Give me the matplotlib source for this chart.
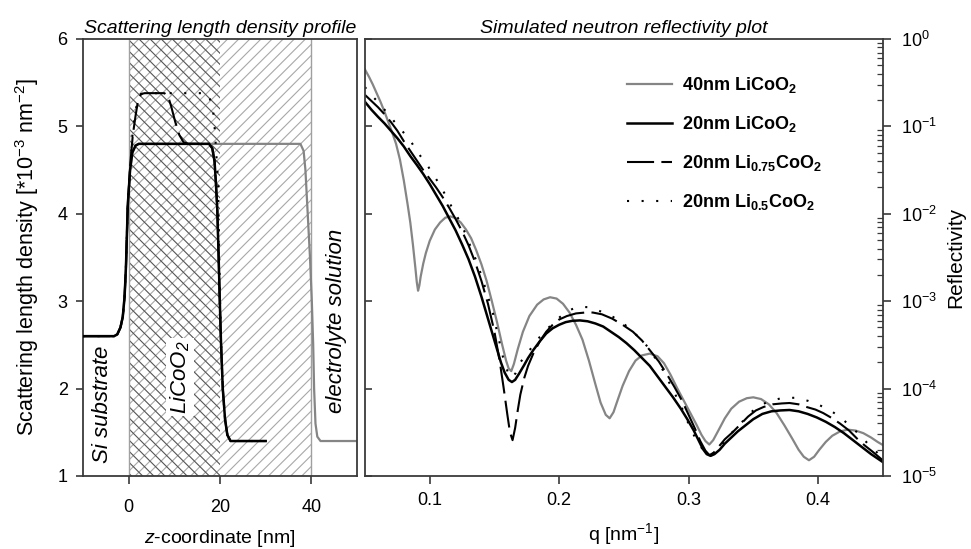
import matplotlib
matplotlib.use("Agg")
import matplotlib.pyplot as plt

plt.rcParams["font.family"] = ["Liberation Sans", "DejaVu Sans"]
plt.rcParams["mathtext.fontset"] = "custom"
plt.rcParams["mathtext.rm"] = "Liberation Sans"
plt.rcParams["mathtext.it"] = "Liberation Sans:italic"
plt.rcParams["mathtext.bf"] = "Liberation Sans:bold"
plt.rcParams["mathtext.default"] = "regular"
plt.rcParams["axes.unicode_minus"] = False
plt.rcParams["hatch.linewidth"] = 0.8

# ---------------- SLD profiles (z in nm, SLD in 1e-3 nm^-2) ----------------
z_40nm = [-10, -3.2, -2.5, -1.8, -1.3, -0.9, -0.6, -0.2, 0.3, 0.8, 1.5, 2.2,
          37.6, 38.3, 38.7, 39.2, 39.7, 40.1, 40.4, 40.6, 40.9, 41.3, 42.0, 50]
sld_40nm = [2.6, 2.6, 2.62, 2.7, 2.82, 3.05, 3.39, 4.1, 4.5, 4.7, 4.78, 4.8,
            4.8, 4.72, 4.5, 4.0, 3.5, 3.0, 2.5, 2.0, 1.6, 1.45, 1.4, 1.4]

z_20nm = [-10, -3.2, -2.5, -1.8, -1.3, -0.9, -0.6, -0.2, 0.3, 0.8, 1.5, 2.2,
          17.6, 18.3, 18.8, 19.1, 19.4, 19.7, 19.95, 20.2, 20.6, 21.1, 21.6, 22.3, 30]
sld_20nm = [2.6, 2.6, 2.62, 2.7, 2.82, 3.05, 3.39, 4.1, 4.5, 4.7, 4.78, 4.8,
            4.8, 4.75, 4.6, 4.35, 4.05, 3.5, 3.0, 2.55, 2.0, 1.65, 1.47, 1.4, 1.4]

z_li075 = [-10, -3.2, -2.5, -1.8, -1.3, -0.9, -0.6, -0.2, 0.4, 0.9, 1.5, 2.0, 2.7, 3.5,
           7.8, 8.6, 9.3, 10.2, 11.1, 12.0, 13.0,
           17.6, 18.3, 18.8, 19.1, 19.4, 19.7, 19.95, 20.2, 20.6, 21.1, 21.6, 22.3, 30]
sld_li075 = [2.6, 2.6, 2.62, 2.7, 2.82, 3.05, 3.39, 4.1, 4.6, 4.9, 5.12, 5.28, 5.37, 5.38,
             5.38, 5.35, 5.23, 5.05, 4.9, 4.82, 4.8,
             4.8, 4.75, 4.6, 4.35, 4.05, 3.5, 3.0, 2.55, 2.0, 1.65, 1.47, 1.4, 1.4]

z_li05 = [-10, -3.2, -2.5, -1.8, -1.3, -0.9, -0.6, -0.2, 0.4, 0.9, 1.5, 2.0, 2.7, 3.5,
          17.3, 17.7, 18.1, 18.5, 18.8, 19.0, 19.2, 19.4, 19.6, 19.8, 20.05,
          20.3, 20.6, 21.1, 21.6, 22.3, 30]
sld_li05 = [2.6, 2.6, 2.62, 2.7, 2.82, 3.05, 3.39, 4.1, 4.6, 4.95, 5.18, 5.3, 5.37, 5.38,
            5.38, 5.33, 5.25, 5.17, 5.0, 4.84, 4.67, 4.52, 4.3, 3.6, 2.9,
            2.45, 2.0, 1.65, 1.47, 1.4, 1.4]

# ---------------- Simulated reflectivity (q in nm^-1, log10 R) ----------------
q_40nm = [0.050, 0.053, 0.056, 0.059, 0.062, 0.065, 0.068, 0.071, 0.074, 0.077, 0.080,
          0.083, 0.085, 0.087, 0.089, 0.090, 0.091, 0.092, 0.093, 0.095, 0.097, 0.100,
          0.104, 0.108, 0.112, 0.116, 0.120, 0.124, 0.128, 0.132, 0.136, 0.140, 0.144,
          0.148, 0.152, 0.156, 0.159, 0.161, 0.163, 0.165, 0.168, 0.172, 0.177, 0.183,
          0.188, 0.193, 0.198, 0.203, 0.208, 0.213, 0.218, 0.223, 0.228, 0.232, 0.236,
          0.239, 0.242, 0.245, 0.249, 0.254, 0.259, 0.264, 0.270, 0.276, 0.281, 0.286,
          0.291, 0.296, 0.301, 0.306, 0.310, 0.313, 0.316, 0.319, 0.323, 0.328, 0.333,
          0.339, 0.345, 0.350, 0.356, 0.362, 0.368, 0.374, 0.380, 0.385, 0.389, 0.393,
          0.397, 0.401, 0.406, 0.411, 0.417, 0.423, 0.429, 0.435, 0.441, 0.446, 0.450]
logR_40nm = [-0.35, -0.43, -0.52, -0.62, -0.72, -0.83, -0.95, -1.07, -1.20, -1.38, -1.62,
             -1.90, -2.10, -2.35, -2.63, -2.78, -2.88, -2.82, -2.72, -2.57, -2.45, -2.31,
             -2.18, -2.10, -2.045, -2.03, -2.05, -2.10, -2.18, -2.28, -2.42, -2.58, -2.77,
             -3.00, -3.24, -3.50, -3.68, -3.77, -3.80, -3.72, -3.55, -3.35, -3.17, -3.04,
             -2.98, -2.955, -2.97, -3.03, -3.13, -3.27, -3.44, -3.68, -3.95, -4.16, -4.30,
             -4.34, -4.27, -4.14, -3.97, -3.80, -3.68, -3.62, -3.60, -3.63, -3.71, -3.84,
             -3.99, -4.13, -4.27, -4.41, -4.53, -4.60, -4.64, -4.59, -4.48, -4.34, -4.23,
             -4.15, -4.11, -4.10, -4.12, -4.18, -4.28, -4.42, -4.57, -4.70, -4.78, -4.82,
             -4.78, -4.70, -4.61, -4.54, -4.49, -4.47, -4.48, -4.51, -4.56, -4.61, -4.645]

q_20nm = [0.050, 0.055, 0.060, 0.065, 0.070, 0.075, 0.080, 0.085, 0.090, 0.095, 0.100,
          0.105, 0.110, 0.115, 0.120, 0.125, 0.130, 0.135, 0.140, 0.145, 0.150, 0.155,
          0.158, 0.161, 0.1635, 0.166, 0.169, 0.173, 0.176, 0.180, 0.185, 0.190, 0.195,
          0.200, 0.205, 0.210, 0.216, 0.222, 0.228, 0.234, 0.240, 0.246, 0.252, 0.258,
          0.264, 0.270, 0.276, 0.282, 0.288, 0.294, 0.299, 0.304, 0.308, 0.311, 0.314,
          0.317, 0.320, 0.324, 0.328, 0.333, 0.338, 0.344, 0.350, 0.357, 0.364, 0.371,
          0.378, 0.385, 0.392, 0.399, 0.406, 0.413, 0.420, 0.427, 0.434, 0.441, 0.450]
logR_20nm = [-0.72, -0.81, -0.89, -0.965, -1.05, -1.135, -1.23, -1.34, -1.44, -1.545, -1.66,
             -1.785, -1.91, -2.05, -2.19, -2.35, -2.52, -2.72, -2.95, -3.20, -3.45, -3.70,
             -3.82, -3.90, -3.925, -3.90, -3.83, -3.73, -3.65, -3.56, -3.46, -3.37, -3.31,
             -3.27, -3.24, -3.225, -3.22, -3.23, -3.255, -3.29, -3.35, -3.41, -3.48, -3.56,
             -3.65, -3.74, -3.86, -3.98, -4.10, -4.23, -4.35, -4.48, -4.60, -4.69, -4.75,
             -4.77, -4.75, -4.70, -4.63, -4.56, -4.49, -4.42, -4.35, -4.29, -4.26, -4.25,
             -4.245, -4.26, -4.29, -4.33, -4.38, -4.44, -4.51, -4.59, -4.67, -4.75, -4.84]

q_li075 = [0.050, 0.055, 0.060, 0.065, 0.070, 0.075, 0.080, 0.085, 0.090, 0.095, 0.100,
           0.105, 0.110, 0.115, 0.120, 0.125, 0.130, 0.135, 0.140, 0.145, 0.150, 0.154,
           0.157, 0.160, 0.162, 0.164, 0.166, 0.168, 0.170, 0.173, 0.176, 0.180, 0.185,
           0.190, 0.195, 0.200, 0.206, 0.213, 0.220, 0.226, 0.233, 0.241, 0.249, 0.257,
           0.264, 0.270, 0.277, 0.283, 0.289, 0.295, 0.300, 0.305, 0.309, 0.313, 0.316,
           0.319, 0.323, 0.328, 0.334, 0.340, 0.346, 0.352, 0.358, 0.365, 0.372, 0.378,
           0.385, 0.391, 0.398, 0.404, 0.411, 0.417, 0.424, 0.430, 0.436, 0.442, 0.450]
logR_li075 = [-0.64, -0.71, -0.78, -0.86, -0.95, -1.05, -1.17, -1.28, -1.39, -1.50, -1.60,
              -1.70, -1.81, -1.93, -2.06, -2.20, -2.36, -2.55, -2.77, -3.03, -3.35, -3.68,
              -3.98, -4.30, -4.50, -4.59, -4.45, -4.25, -4.07, -3.88, -3.74, -3.60, -3.46,
              -3.35, -3.27, -3.21, -3.17, -3.14, -3.13, -3.13, -3.15, -3.20, -3.27, -3.35,
              -3.45, -3.56, -3.69, -3.83, -3.98, -4.14, -4.30, -4.46, -4.60, -4.71, -4.76,
              -4.74, -4.67, -4.58, -4.50, -4.41, -4.32, -4.25, -4.21, -4.18, -4.17, -4.165,
              -4.18, -4.21, -4.24, -4.28, -4.34, -4.40, -4.48, -4.57, -4.65, -4.72, -4.82]

q_li05 = [0.050, 0.0534, 0.0598, 0.0663, 0.0727, 0.0792, 0.0856, 0.0907, 0.0972, 0.1023,
          0.108, 0.1131, 0.1183, 0.123, 0.128, 0.1319, 0.1365, 0.1402, 0.1445, 0.1489,
          0.1528, 0.1566, 0.1605, 0.1635, 0.1665, 0.1695, 0.1772, 0.185, 0.1952, 0.2055,
          0.2133, 0.218, 0.2236, 0.2326, 0.2416, 0.2493, 0.257, 0.2635, 0.270, 0.275, 0.2802,
          0.2853, 0.2905, 0.2956, 0.3008, 0.306, 0.3111, 0.3162, 0.3215, 0.3265, 0.333,
          0.3394, 0.3458, 0.3535, 0.3612, 0.3716, 0.3819, 0.3922, 0.4012, 0.4089, 0.4166,
          0.4243, 0.4308, 0.4385, 0.4462, 0.450]
logR_li05 = [-0.55, -0.62, -0.717, -0.83, -0.946, -1.06, -1.175, -1.30, -1.42, -1.545,
             -1.67, -1.815, -1.957, -2.08, -2.24, -2.39, -2.555, -2.72, -2.92, -3.14,
             -3.40, -3.64, -3.82, -3.88, -3.82, -3.71, -3.56, -3.41, -3.25, -3.12,
             -3.07, -3.065, -3.07, -3.12, -3.18, -3.25, -3.35, -3.44, -3.55, -3.67, -3.79,
             -3.94, -4.09, -4.245, -4.435, -4.59, -4.70, -4.76, -4.72, -4.63, -4.51,
             -4.42, -4.30, -4.21, -4.15, -4.11, -4.105, -4.14, -4.19, -4.245, -4.32,
             -4.42, -4.51, -4.63, -4.74, -4.78]

labels = ["40nm LiCoO$_2$", "20nm LiCoO$_2$", "20nm Li$_{0.75}$CoO$_2$", "20nm Li$_{0.5}$CoO$_2$"]

GRAY = "#858585"
SPINE = "#3a3a3a"
DASH = (13, 3.5)
DOT = (1, 6)

fig = plt.figure(figsize=(9.71, 5.49), dpi=100)
ax1 = fig.add_axes([0.0855, 0.133, 0.2822, 0.796])
ax2 = fig.add_axes([0.3759, 0.133, 0.5332, 0.796])

# ---------------- left panel: SLD profile ----------------
ax1.axvspan(0, 40, facecolor="white", edgecolor="#a8a8a8", hatch="///", linewidth=0, zorder=0)
ax1.axvspan(0, 20, facecolor="none", edgecolor="#555555", hatch="\\\\\\", linewidth=0, zorder=0.5)
ax1.axvline(0, color="#a0a0a0", lw=1.0, zorder=0.6)
ax1.axvline(40, color="#a0a0a0", lw=1.0, zorder=0.6)

ax1.plot(z_40nm, sld_40nm, color=GRAY, lw=1.6, zorder=2)
ax1.plot(z_20nm, sld_20nm, color="black", lw=1.8, zorder=3)
ax1.plot(z_li075, sld_li075, color="black", lw=1.5, dashes=DASH, zorder=4)
ax1.plot(z_li05, sld_li05, color="black", lw=1.5, dashes=DOT, zorder=4)

ax1.text(-5.7, 1.82, "Si substrate", rotation=90, style="italic", fontsize=16,
         ha="center", va="center")
ax1.text(11.2, 2.13, "LiCoO$_2$", rotation=90, style="italic", fontsize=16,
         ha="center", va="center", zorder=5,
         bbox=dict(facecolor="white", edgecolor="none", pad=1.5))
ax1.text(45.6, 2.77, "electrolyte solution", rotation=90, style="italic", fontsize=16,
         ha="center", va="center")

ax1.set_xlim(-10, 50)
ax1.set_ylim(1, 6)
ax1.set_xticks([0, 20, 40])
ax1.set_yticks([1, 2, 3, 4, 5, 6])
ax1.tick_params(axis="x", direction="out", length=6, width=1.2, pad=10.5, labelsize=13, colors=SPINE, labelcolor="black")
ax1.tick_params(axis="y", direction="out", length=5, width=1.2, pad=6, labelsize=13, colors=SPINE, labelcolor="black")
for s in ax1.spines.values():
    s.set_color(SPINE)
    s.set_linewidth(1.3)
ax1.set_title("Scattering length density profile", style="italic", fontsize=14, pad=4)
ax1.set_xlabel(r"$\mathit{z}$-coordinate [nm]", fontsize=14, labelpad=9)
ax1.set_ylabel("Scattering length density [*10$^{-3}$ nm$^{-2}$]", fontsize=15.5, labelpad=12)

# ---------------- right panel: reflectivity ----------------
R = lambda v: [10 ** x for x in v]
l1, = ax2.plot(q_40nm, R(logR_40nm), color=GRAY, lw=1.6)
l2, = ax2.plot(q_20nm, R(logR_20nm), color="black", lw=1.8)
l3, = ax2.plot(q_li075, R(logR_li075), color="black", lw=1.5, dashes=DASH)
l4, = ax2.plot(q_li05, R(logR_li05), color="black", lw=1.5, dashes=DOT)

ax2.set_yscale("log")
ax2.set_xlim(0.05, 0.45)
ax2.set_ylim(1e-5, 1)
ax2.set_xticks([0.1, 0.2, 0.3, 0.4])
ax2.yaxis.tick_right()
ax2.yaxis.set_label_position("right")
ax2.tick_params(axis="x", direction="out", length=6, width=1.2, pad=5.5, labelsize=13, colors=SPINE, labelcolor="black")
ax2.tick_params(axis="y", which="major", direction="out", length=6, width=1.2, pad=7, labelsize=13, colors=SPINE, labelcolor="black")
ax2.tick_params(axis="y", which="minor", direction="in", length=4, width=0.9, colors=SPINE)
for s in ax2.spines.values():
    s.set_color(SPINE)
    s.set_linewidth(1.3)

left_ticks = ax2.secondary_yaxis("left", functions=(lambda y: y, lambda y: y))
left_ticks.tick_params(axis="y", which="major", direction="in", length=5, width=1.2, colors=SPINE, labelleft=False)
left_ticks.tick_params(axis="y", which="minor", length=0)
left_ticks.spines["left"].set_visible(False)

ax2.set_title("Simulated neutron reflectivity plot", style="italic", fontsize=14, pad=4)
ax2.set_xlabel("q [nm$^{-1}$]", fontsize=14, labelpad=9)
ax2.set_ylabel("Reflectivity", fontsize=15, labelpad=7)

ax2.legend([l1, l2, l3, l4], labels, loc="upper left", bbox_to_anchor=(0.6457, 0.8625),
           bbox_transform=fig.transFigure, frameon=False,
           prop={"weight": "bold", "size": 13}, handlelength=2.5, handletextpad=0.55,
           labelspacing=1.05, borderpad=0, borderaxespad=0)

fig.savefig("out.png", dpi=100)
